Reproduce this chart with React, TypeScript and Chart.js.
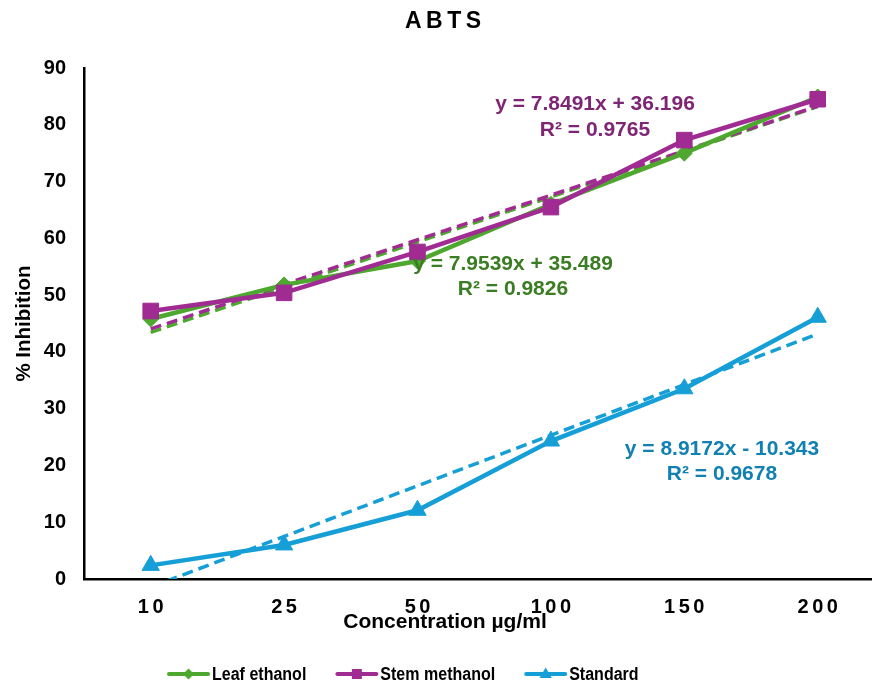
import React, { useEffect, useRef } from "react";
import { Chart, registerables } from "chart.js";

Chart.register(...registerables);

// ---- data ----
const categories = ["10", "25", "50", "100", "150", "200"];
const leafEthanol = [45.8, 51.8, 56.0, 66.0, 75.0, 84.9];
const stemMethanol = [47.2, 50.4, 57.6, 65.5, 77.3, 84.5];
const standard = [2.4, 6.0, 12.1, 24.3, 33.5, 46.1];
const seriesNames = ["Leaf ethanol", "Stem methanol", "Standard"];
// linear trend lines as printed on the chart (x = category index 1..6)
const trendSlopes = [7.9539, 7.8491, 8.9172];
const trendIntercepts = [35.489, 36.196, -10.343];
const trendR2 = ["0.9826", "0.9765", "0.9678"];
const yMin = 0;
const yMax = 90;
const yStep = 10;

const FONT = '"Liberation Sans", Arial, Helvetica, sans-serif';
const lineColors = ["#4EA72E", "#A02B93", "#169FD6"];
const labelColors = ["#3B7D23", "#7E2575", "#1180B2"];
const pointStyles = ["rectRot", "rect", "triangle"];
const pointRadii = [8, 11, 10];

const seriesData = [leafEthanol, stemMethanol, standard];

function eqText(i: number) {
  const b = trendIntercepts[i];
  const sign = b < 0 ? "-" : "+";
  return `y = ${trendSlopes[i]}x ${sign} ${Math.abs(b)}`;
}

function setLS(ctx: any, px: number) {
  if ("letterSpacing" in ctx) ctx.letterSpacing = px + "px";
}

function drawMarker(ctx: CanvasRenderingContext2D, style: string, x: number, y: number, s: number) {
  ctx.beginPath();
  if (style === "rect") {
    ctx.rect(x - s, y - s, 2 * s, 2 * s);
  } else if (style === "rectRot") {
    ctx.moveTo(x, y - s);
    ctx.lineTo(x + s, y);
    ctx.lineTo(x, y + s);
    ctx.lineTo(x - s, y);
    ctx.closePath();
  } else {
    ctx.moveTo(x, y - s);
    ctx.lineTo(x + s * 0.95, y + s * 0.6);
    ctx.lineTo(x - s * 0.95, y + s * 0.6);
    ctx.closePath();
  }
  ctx.fill();
}

// label anchor positions (pixels) for the trend equations
const eqPos = [
  { x: 513, y1: 264, y2: 289 },
  { x: 595, y1: 104, y2: 130 },
  { x: 722, y1: 449, y2: 474 },
];

const overlayPlugin = {
  id: "overlay",
  afterDraw(chart: any) {
    const ctx: CanvasRenderingContext2D = chart.ctx;
    const xs = chart.scales.x;
    const area = chart.chartArea;
    ctx.save();

    // Title
    ctx.fillStyle = "#000";
    ctx.textAlign = "center";
    ctx.textBaseline = "middle";
    ctx.font = `bold 23px ${FONT}`;
    setLS(ctx, 4.5);
    ctx.fillText("ABTS", 443 + 2.25, 22);

    // x tick labels (letter-spaced)
    ctx.font = `bold 20px ${FONT}`;
    setLS(ctx, 3.5);
    categories.forEach((c, i) => {
      const px = xs.getPixelForValue(i + 1);
      ctx.fillText(c, px + 1.75, 607);
    });
    setLS(ctx, 0);

    // x axis title
    ctx.font = `bold 21px ${FONT}`;
    ctx.fillText("Concentration µg/ml", 445, 622);

    // y axis title
    ctx.save();
    ctx.translate(24, (area.top + area.bottom) / 2);
    ctx.rotate(-Math.PI / 2);
    ctx.font = `bold 20.5px ${FONT}`;
    ctx.fillText("% Inhibition", 0, 0);
    ctx.restore();

    // trend equations
    ctx.font = `bold 21px ${FONT}`;
    for (let i = 0; i < 3; i++) {
      ctx.fillStyle = labelColors[i];
      ctx.fillText(eqText(i), eqPos[i].x, eqPos[i].y1);
      ctx.fillText(`R² = ${trendR2[i]}`, eqPos[i].x, eqPos[i].y2);
    }

    // legend (condensed text like the reference)
    ctx.font = `bold 18px ${FONT}`;
    ctx.textAlign = "left";
    const squeeze = 0.89;
    let lx = 167;
    const ly = 674;
    const markerSizes = [5.5, 5, 6.5];
    for (let i = 0; i < 3; i++) {
      ctx.strokeStyle = lineColors[i];
      ctx.fillStyle = lineColors[i];
      ctx.lineWidth = 4;
      ctx.lineCap = "round";
      ctx.beginPath();
      ctx.moveTo(lx + 2, ly);
      ctx.lineTo(lx + 41, ly);
      ctx.stroke();
      drawMarker(ctx, pointStyles[i], lx + 21.5, ly, markerSizes[i]);
      ctx.fillStyle = "#000";
      const tx = lx + 45;
      ctx.save();
      ctx.translate(tx, ly + 1);
      ctx.scale(squeeze, 1);
      ctx.fillText(seriesNames[i], 0, 0);
      ctx.restore();
      lx = tx + ctx.measureText(seriesNames[i]).width * squeeze + 29;
    }

    ctx.restore();
  },
};

export default function App() {
  const ref = useRef<HTMLCanvasElement | null>(null);

  useEffect(() => {
    if (!ref.current) return;
    const dataDatasets = seriesData.map((vals, i) => ({
      type: "line" as const,
      label: seriesNames[i],
      data: vals.map((v, j) => ({ x: j + 1, y: v })),
      borderColor: lineColors[i],
      backgroundColor: lineColors[i],
      borderWidth: 4.5,
      pointStyle: pointStyles[i],
      pointRadius: pointRadii[i],
      pointBorderWidth: 1,
      pointBorderColor: lineColors[i],
      pointBackgroundColor: lineColors[i],
      tension: 0,
      order: [2, 1, 3][i],
    }));
    const trendDatasets = seriesNames.map((name, i) => ({
      type: "line" as const,
      label: name + " trend",
      data: [1, 6].map((x) => ({ x, y: trendSlopes[i] * x + trendIntercepts[i] })),
      borderColor: lineColors[i],
      borderWidth: 3.5,
      borderDash: [11, 6],
      pointRadius: 0,
      fill: false,
      clip: 0,
      order: [6, 5, 4][i],
    }));

    const chart = new Chart(ref.current, {
      type: "line",
      data: { datasets: [...dataDatasets, ...trendDatasets] as any },
      options: {
        animation: false,
        responsive: false,
        devicePixelRatio: 1,
        layout: { autoPadding: false, padding: { top: 68, left: 0, right: 0, bottom: 0 } },
        plugins: {
          legend: { display: false },
          tooltip: { enabled: false },
          title: { display: false },
        },
        scales: {
          x: {
            type: "linear",
            min: 0.5,
            max: 6.407,
            grid: { display: false, drawTicks: false },
            border: { display: true, color: "#000", width: 2.5 },
            ticks: { display: false },
            afterFit: (s: any) => {
              s.height = 107;
            },
          },
          y: {
            min: yMin,
            max: yMax,
            grid: { display: false, drawTicks: false },
            border: { display: true, color: "#000", width: 2.5 },
            ticks: {
              stepSize: yStep,
              padding: 18,
              color: "#000",
              font: { family: FONT, size: 20, weight: "bold" },
            },
            afterFit: (s: any) => {
              s.width = 84;
            },
          },
        },
      } as any,
      plugins: [overlayPlugin],
    });
    return () => chart.destroy();
  }, []);

  return (
    <div style={{ position: "fixed", left: 0, top: 0, width: 872, height: 686, background: "#fff" }}>
      <canvas ref={ref} width={872} height={686} style={{ display: "block" }} />
    </div>
  );
}
